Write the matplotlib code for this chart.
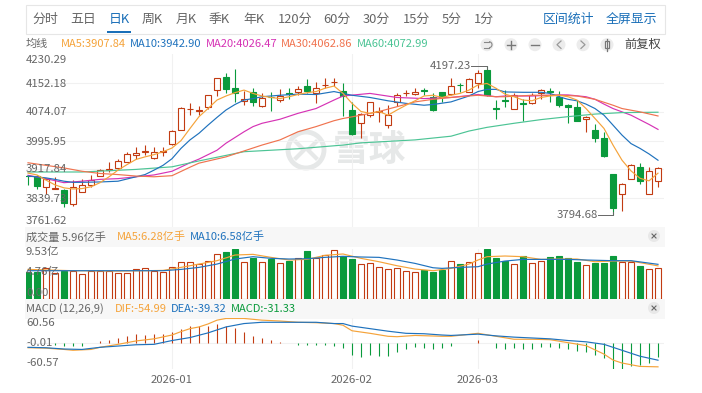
#!/usr/bin/env python3

import matplotlib
matplotlib.use("Agg")
import matplotlib.pyplot as plt
from matplotlib.patches import Circle, Rectangle, Arc
import numpy as np

plt.rcParams['font.family'] = ['Noto Sans CJK SC', 'DejaVu Sans']

W, H = 702, 393

opens = [3900.5, 3901, 3871, 3866, 3863, 3823, 3858, 3877, 3901, 3917, 3921, 3938, 3957, 3965, 3948, 3965, 3986, 4026,
         4081, 4077, 4086, 4133, 4169, 4138, 4104, 4127, 4091, 4115, 4105, 4124, 4129, 4144, 4124, 4146, 4154, 4130,
         4079, 4045, 4065, 4073, 4039, 4101, 4124, 4123, 4133, 4113, 4127, 4123, 4148, 4129, 4151, 4187, 4085, 4106,
         4083, 4097, 4097, 4124, 4131, 4115, 4092, 4086, 4054, 4026, 4002, 3905, 3850, 3893, 3924, 3852, 3886]
highs = [3901, 3902, 3892, 3897, 3864, 3890, 3891, 3903, 3918, 3938, 3947, 3965, 3979, 3985, 3979, 3979, 4026, 4087,
         4097, 4090, 4121, 4167, 4178, 4189, 4131, 4138, 4124, 4127, 4135, 4139, 4144, 4163, 4156, 4165, 4167, 4151,
         4101, 4070, 4101, 4086, 4092, 4124, 4133, 4139, 4139, 4124, 4129, 4167, 4151, 4165, 4187, 4197.23, 4106, 4133,
         4124, 4110, 4124, 4135, 4140, 4131, 4094, 4106, 4063, 4041, 4020, 3905, 3880, 3932, 3936, 3924, 3924]
lows = [3876, 3864, 3850, 3865, 3817, 3818, 3856, 3871, 3900, 3912, 3920, 3937, 3945, 3958, 3947, 3954, 3985, 4024,
        4065, 4065, 4083, 4118, 4124, 4101, 4092, 4091, 4088, 4077, 4101, 4108, 4121, 4124, 4099, 4138, 4144, 4063,
        4011, 4002, 4061, 4047, 4029, 4091, 4117, 4121, 4119, 4077, 4101, 4121, 4127, 4127, 4138, 4117, 4054, 4088,
        4082, 4050, 4095, 4110, 4101, 4086, 4045, 4048, 4020, 3993, 3952, 3794.68, 3806, 3891, 3878, 3850, 3871]
closes = [3899, 3873, 3891, 3868, 3827, 3871, 3877, 3890, 3916, 3919, 3941, 3960, 3963, 3967, 3965, 3967, 4023, 4084,
          4083, 4079, 4119, 4165, 4136, 4126, 4110, 4101, 4112, 4114, 4117, 4123, 4136, 4130, 4138, 4148, 4156, 4118,
          4014, 4067, 4100, 4075, 4065, 4121, 4126, 4129, 4131, 4079, 4115, 4145, 4146, 4162, 4180, 4119, 4083, 4104,
          4121, 4095, 4121, 4132, 4129, 4092, 4086, 4050, 4061, 4004, 3954, 3814, 3879, 3931, 3887, 3913, 3923]

ma5 = [3908, 3903, 3889, 3876, 3868, 3865, 3866, 3871, 3882, 3898, 3916, 3931, 3945, 3952, 3958, 3966, 3976, 3996,
       4029, 4061, 4083, 4106, 4117, 4126, 4133, 4124, 4117, 4113, 4110, 4115, 4121, 4126, 4129, 4138, 4144, 4124,
       4097, 4075, 4070, 4075, 4065, 4079, 4092, 4104, 4117, 4119, 4113, 4119, 4124, 4133, 4147, 4151, 4138, 4122,
       4115, 4106, 4104, 4113, 4117, 4119, 4115, 4106, 4083, 4056, 4029, 3984, 3943, 3914, 3894, 3887, 3907.84]
ma10_idx = [0, 2, 3, 4, 5, 6, 8, 10, 11, 12, 13, 14, 15, 16, 17, 18, 19, 20, 21, 22, 23, 24, 25, 26, 27, 28, 30, 32, 34,
            36, 38, 40, 42, 44, 45, 47, 49, 50, 51, 52, 53, 55, 57, 58, 59, 60, 61, 62, 63, 64, 65, 66, 67, 68, 69, 70]
ma10 = [3900, 3895, 3891, 3886, 3883, 3883, 3884, 3886, 3892, 3898, 3904, 3916, 3929, 3947, 3975, 3998, 4016, 4038,
        4059, 4079, 4094, 4106, 4110, 4115, 4117, 4119, 4122, 4121, 4129, 4119, 4113, 4104, 4097, 4092, 4094, 4101,
        4117, 4129, 4135, 4135, 4128, 4127, 4127, 4124, 4115, 4108, 4104, 4095, 4083, 4065, 4038, 4011, 3988, 3975,
        3960, 3942.90]
ma20_idx = [0, 2, 4, 6, 8, 10, 12, 14, 16, 18, 19, 21, 22, 24, 25, 26, 28, 30, 32, 34, 35, 38, 41, 44, 47, 50, 52, 53,
            56, 59, 60, 62, 63, 64, 65, 67, 69, 70]
ma20 = [3902, 3893, 3882, 3886, 3891, 3893, 3898, 3903, 3913, 3936, 3946, 3970, 3989, 4020, 4034, 4043, 4054, 4070,
        4083, 4106, 4117, 4124, 4113, 4110, 4113, 4121, 4115, 4117, 4117, 4120, 4120, 4115, 4108, 4095, 4083, 4065,
        4040, 4026.47]
ma30_idx = [0, 2, 4, 6, 8, 10, 12, 14, 16, 18, 19, 22, 24, 26, 28, 30, 32, 34, 35, 37, 39, 41, 43, 45, 47, 50, 52, 53,
            56, 59, 61, 63, 65, 66, 68, 70]
ma30 = [3936, 3929, 3922, 3913, 3907, 3904, 3900, 3898, 3901, 3924, 3935, 3952, 3968, 3984, 3998, 4020, 4034, 4050,
        4056, 4065, 4075, 4088, 4101, 4108, 4113, 4119, 4115, 4115, 4119, 4119, 4117, 4108, 4092, 4083, 4074, 4062.86]
ma60_idx = [0, 6, 12, 16, 19, 24, 30, 35, 37, 43, 47, 49, 51, 54, 57, 60, 63, 66, 70]
ma60 = [3911, 3911, 3918, 3925, 3941, 3966, 3974, 3984, 3990, 3998, 4008, 4022, 4032, 4043, 4053, 4061, 4068, 4072,
        4072.99]

volumes = [5.02, 5.15, 5.8, 4.96, 5.35, 5.35, 4.64, 5.35, 5.35, 5.35, 4.83, 4.83, 5.6, 5.8, 5.35, 5.02, 5.99, 7.08,
           6.95, 6.7, 7.28, 8.5, 8.95, 9.5, 6.95, 7.73, 6.95, 7.6, 6.76, 7.28, 7.73, 9.14, 7.73, 8.3, 9.27, 8.18,
           7.6, 6.57, 6.76, 5.99, 5.6, 5.8, 5.2, 5.02, 5.47, 5.15, 5.47, 7.28, 6.63, 6.95, 8.7, 9.53, 7.73, 7.2,
           6.63, 8.18, 6.76, 7.2, 7.92, 8.18, 7.73, 7.08, 6.44, 6.89, 6.89, 8.18, 7.02, 7.02, 6.25, 5.67, 5.96]
vol_ma5_idx = [0, 5, 10, 13, 15, 17, 19, 21, 23, 25, 27, 29, 31, 33, 35, 37, 39, 41, 43, 45, 47, 49, 50, 51, 53, 55,
               57, 59, 61, 63, 65, 67, 70]
vol_ma5 = [5.6, 5.35, 5.28, 5.35, 5.41, 5.99, 6.63, 7.28, 8.37, 8.5, 7.92, 7.41, 7.53, 8.31, 8.57, 7.73, 7.08, 6.31,
           5.67, 5.35, 5.8, 6.63, 7.41, 8.05, 8.18, 8.05, 7.53, 7.6, 7.6, 7.08, 7.21, 7.21, 6.28]
vol_ma10_idx = [0, 5, 10, 15, 17, 19, 21, 23, 25, 27, 29, 31, 33, 35, 37, 39, 41, 43, 45, 46, 48, 50, 51, 53, 55, 57,
                60, 62, 65, 67, 70]
vol_ma10 = [5.35, 5.35, 5.35, 5.35, 5.6, 5.99, 6.63, 7.6, 8.05, 7.73, 7.6, 7.66, 7.92, 8.11, 7.99, 7.92, 7.41, 6.76,
            5.92, 5.8, 5.99, 6.12, 6.63, 7.21, 7.53, 7.53, 7.53, 7.41, 7.28, 7.28, 6.58]

macd_bars = [0, 0, 0, -4, -7, -7, -5, 0, 5, 9, 14, 18, 22, 20, 22, 22, 27, 35,
             41, 41, 41, 46, 42, 36, 26, 17, 12, 8, 3, 0, -3, -4, -4, -3, -5, -10,
             -28, -31, -28, -29, -29, -21, -14, -9, -10, -12, -10, -6, 1, 2, 8, 0, -10, -13,
             -11, -12, -12, -8, -8, -10, -14, -18, -21, -28, -35, -59, -61, -53, -51, -47, -31.33]
dif_idx = [0, 2, 4, 5, 7, 8, 10, 12, 14, 16, 17, 18, 19, 20, 21, 22, 24, 26, 28, 30, 32, 34, 35, 36, 38, 40, 41, 43, 46,
           47, 50, 52, 54, 56, 58, 60, 62, 64, 65, 66, 68, 70]
dif = [-10, -11, -14, -16, -14, -9, -2, 6, 11, 20, 28, 35, 39, 46, 55, 59, 59, 55, 53, 50, 49, 47, 43, 30, 24, 17, 16, 19,
       17, 17, 24, 17, 10, 10, 9, 2, -5, -25, -39, -46, -54, -54.99]
dea_idx = [0, 2, 4, 6, 8, 10, 12, 14, 16, 18, 20, 22, 24, 26, 28, 30, 32, 34, 35, 36, 38, 40, 42, 44, 46, 47, 50, 52,
           54, 56, 58, 60, 62, 64, 65, 66, 68, 70]
dea = [-9, -10, -13, -14, -9, -6, -3, -2, 7, 14, 25, 39, 47, 50, 50, 50, 50, 47, 47, 41, 35, 29, 24, 23, 20, 19, 22, 18,
       15, 13, 11, 7, 4, -2, -9, -16, -30, -39.32]

month_idx = [16, 36, 50]
month_labels = ['2026-01', '2026-02', '2026-03']
price_levels = [4152.18, 4074.07, 3995.95, 3917.84, 3839.73]
price_labels = ['4230.29', '4152.18', '4074.07', '3995.95', '3917.84', '3839.73', '3761.62']
vol_labels = ['9.53亿', '4.76亿', '0.00']
macd_labels = ['60.56', '-0.01', '-60.57']
tabs = ['分时', '五日', '日K', '周K', '月K', '季K', '年K', '120分', '60分', '30分', '15分', '5分', '1分']

RED = '#c23b12'
GREEN = '#0a9a3c'
GRID = '#f1f1f1'
GRAY = '#666666'
ORANGE = '#f5a33a'
BLUE = '#1f72bd'
MAGENTA = '#d633b5'
CORAL = '#f0734f'
TEAL = '#4cc495'

fig = plt.figure(figsize=(W / 100, H / 100), dpi=100)


def panel(x0, y0, x1, y1):
    ax = fig.add_axes([x0 / W, 1 - y1 / H, (x1 - x0) / W, (y1 - y0) / H])
    ax.set_xlim((x0 - 28) / 9, (x1 - 28) / 9)
    ax.set_xticks([])
    ax.set_yticks([])
    for s in ax.spines.values():
        s.set_visible(False)
    ax.patch.set_alpha(0)
    for m in month_idx:
        ax.axvline(m, color=GRID, lw=0.8, zorder=0)
    return ax


idx = np.arange(len(closes))
opens, highs, lows, closes = map(np.array, (opens, highs, lows, closes))
up = closes >= opens
colors = [RED if u else GREEN for u in up]
faces = ['white' if u else GREEN for u in up]

# ui layer, drawn first so the watermark sits behind the candles
bg = fig.add_axes([0, 0, 1, 1])
bg.set_xlim(0, W)
bg.set_ylim(H, 0)
bg.axis('off')
bg.add_patch(Rectangle((25.5, 4.5), 288 + 351, 29, fc='white', ec='#e6e6e6', lw=0.8))
bg.add_patch(Rectangle((25, 227), 640, 20, fc='#f7f7f7', ec='none'))
bg.add_patch(Rectangle((25, 299), 640, 20, fc='#f7f7f7', ec='none'))
bg.add_patch(Circle((306, 150), 18, fc='none', ec='#e6e8e8', lw=3.5))
bg.plot([296, 304, 296], [142, 150, 158], color='#e6e8e8', lw=3)
bg.plot([316, 308, 316], [142, 150, 158], color='#e6e8e8', lw=3)
bg.text(333, 150, '雪球', fontsize=26.5, color='#e6e8e8', ha='left', va='center', fontweight='bold')

# price panel
ax = panel(26, 54.2, 664, 227.1)
ax.set_ylim(3761.62, 4230.29)
ax.hlines(price_levels, *ax.get_xlim(), color=GRID, lw=0.8, zorder=0)
ax.vlines(idx, lows, highs, color=colors, lw=0.8, zorder=2)
ax.bar(idx, np.abs(closes - opens), bottom=np.minimum(opens, closes), width=0.66, color=faces,
       edgecolor=colors, lw=0.8, zorder=3)
ax.plot(idx, ma5, color=ORANGE, lw=0.85, zorder=6)
ax.plot(ma10_idx, ma10, color=BLUE, lw=0.85, zorder=5)
ax.plot(ma20_idx, ma20, color=MAGENTA, lw=0.85, zorder=4)
ax.plot(ma30_idx, ma30, color=CORAL, lw=0.85, zorder=5)
ax.plot(ma60_idx, ma60, color=TEAL, lw=0.85, zorder=4)

# high / low leader lines
hi = int(np.argmax(highs))
lo = int(np.argmin(lows))
ax.plot([hi - 1.8, hi, hi], [highs[hi], highs[hi], highs[hi] - 8], color=GRAY, lw=0.7, zorder=7)
ax.plot([lo - 1.7, lo, lo], [lows[lo], lows[lo], lows[lo] + 8], color=GRAY, lw=0.7, zorder=7)
ax.text(hi - 1.8, highs[hi], f'{highs[hi]:.2f}', color=GRAY, fontsize=8.2, ha='right', va='center', zorder=8)
ax.text(lo - 1.7, lows[lo], f'{lows[lo]:.2f}', color=GRAY, fontsize=8.2, ha='right', va='center', zorder=8)

# volume panel
ax_vol = panel(26, 249, 664, 298.5)
ax_vol.set_ylim(0, 9.53)
ax_vol.bar(idx, volumes, width=0.68, color=faces, edgecolor=colors, lw=0.8, zorder=2)
ax_vol.plot(vol_ma5_idx, vol_ma5, color=ORANGE, lw=0.85, zorder=4)
ax_vol.plot(vol_ma10_idx, vol_ma10, color=BLUE, lw=0.85, zorder=4)

# macd panel
ax_macd = panel(26, 317.8, 664, 369.2)
ax_macd.set_ylim(-60.57, 60.56)
ax_macd.axhline(0, color=GRID, lw=0.8, zorder=0)
ax_macd.vlines(idx, 0, macd_bars, color=[RED if v > 0 else GREEN for v in macd_bars], lw=0.8, zorder=2)
ax_macd.plot(dif_idx, dif, color=ORANGE, lw=0.85, zorder=4)
ax_macd.plot(dea_idx, dea, color=BLUE, lw=0.85, zorder=4)

# text and buttons on top
ui = fig.add_axes([0, 0, 1, 1], zorder=10)
ui.set_xlim(0, W)
ui.set_ylim(H, 0)
ui.axis('off')
ui.patch.set_alpha(0)

for label, x in zip(tabs, [32, 70, 109, 142, 176, 209, 243, 278, 323, 363, 403, 442, 474]):
    ui.text(x, 19, label, fontsize=9.3, ha='left', va='center', color='#1a6fb8' if label == '日K' else GRAY)
ui.add_patch(Rectangle((107, 31), 24, 2, fc='#1a6fb8', ec='none'))
ui.text(543, 19, '区间统计', fontsize=9.3, ha='left', va='center', color='#1a6fb8')
ui.text(606, 19, '全屏显示', fontsize=9.3, ha='left', va='center', color='#1a6fb8')

ui.text(26, 44, '均线', fontsize=8, ha='left', va='center', color=GRAY)
ma_heads = ['MA5:3907.84', 'MA10:3942.90', 'MA20:4026.47', 'MA30:4062.86', 'MA60:4072.99']
for label, x, c in zip(ma_heads, [61, 130, 206, 281, 357], [ORANGE, BLUE, MAGENTA, CORAL, TEAL]):
    ui.text(x, 44, label, fontsize=8, ha='left', va='center', color=c, fontweight='medium')

for x in [487, 511, 535, 559, 583, 607]:
    ui.add_patch(Circle((x, 44.7), 6.5, fc='#ececec', ec='none'))
ui.add_patch(Arc((489, 44.7), 6, 6, theta1=-90, theta2=90, color='#888888', lw=0.8))
ui.plot([484, 489], [41.7, 41.7], color='#888888', lw=0.8)
ui.plot([484, 489], [47.7, 47.7], color='#888888', lw=0.8)
ui.plot([507, 515], [44.7, 44.7], color='#777777', lw=1.0)
ui.plot([511, 511], [40.7, 48.7], color='#777777', lw=1.0)
ui.plot([531, 539], [44.7, 44.7], color='#777777', lw=1.0)
ui.plot([561, 557, 561], [41, 44.7, 48.4], color='#999999', lw=0.9)
ui.plot([581, 585, 581], [41, 44.7, 48.4], color='#999999', lw=0.9)
ui.add_patch(Rectangle((605, 41), 4, 7, fc='white', ec='#777777', lw=0.9))
ui.plot([607, 607], [38.5, 51], color='#777777', lw=0.9)
ui.text(624, 44, '前复权', fontsize=8.8, ha='left', va='center', color='#444444')

for label, y in zip(price_labels, [60, 84, 112, 142, 169, 199, 221]):
    ui.text(26, y, label, fontsize=8.2, ha='left', va='center', color=GRAY)

ui.text(26, 237, '成交量 5.96亿手', fontsize=8, ha='left', va='center', color=GRAY)
ui.text(117, 237, 'MA5:6.28亿手', fontsize=8, ha='left', va='center', color=ORANGE)
ui.text(190, 237, 'MA10:6.58亿手', fontsize=8, ha='left', va='center', color=BLUE)
for label, y in zip(vol_labels, [252, 272, 293]):
    ui.text(26, y, label, fontsize=8.2, ha='left', va='center', color=GRAY)

ui.text(26, 309, 'MACD (12,26,9)', fontsize=8, ha='left', va='center', color=GRAY)
ui.text(115, 309, 'DIF:-54.99', fontsize=8, ha='left', va='center', color=ORANGE)
ui.text(171, 309, 'DEA:-39.32', fontsize=8, ha='left', va='center', color=BLUE)
ui.text(231, 309, 'MACD:-31.33', fontsize=8, ha='left', va='center', color=GREEN)
for label, y in zip(macd_labels, [323, 343, 363]):
    ui.text(26, y, label, fontsize=8.2, ha='left', va='center', color=GRAY)

for y in [236, 308]:
    ui.add_patch(Circle((654, y), 6, fc='#e8e8e8', ec='none'))
    ui.plot([652, 656], [y - 2, y + 2], color='#666666', lw=0.8)
    ui.plot([652, 656], [y + 2, y - 2], color='#666666', lw=0.8)

for label, m in zip(month_labels, month_idx):
    ui.text(28 + 9 * m, 380, label, fontsize=8.2, ha='center', va='center', color=GRAY)

plt.savefig('out.png', dpi=100)
